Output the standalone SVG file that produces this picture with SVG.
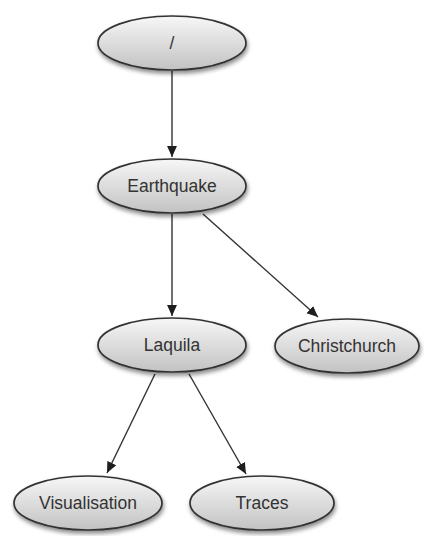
<svg xmlns="http://www.w3.org/2000/svg" width="424" height="536" viewBox="0 0 424 536">
<defs>
<linearGradient id="g" x1="0" y1="0" x2="0" y2="1">
<stop offset="0" stop-color="#f7f7f7"/>
<stop offset="1" stop-color="#c2c2c2"/>
</linearGradient>
<filter id="sh" x="-20%" y="-30%" width="140%" height="170%">
<feDropShadow dx="1" dy="3" stdDeviation="2" flood-color="#000" flood-opacity="0.45"/>
</filter>
<marker id="ah" viewBox="0 0 10 10" refX="10" refY="5" markerWidth="11" markerHeight="11" markerUnits="userSpaceOnUse" orient="auto">
<path d="M0,0.5 L10,5 L0,9.5 Z" fill="#1e1e1e"/>
</marker>
<style>
.n ellipse{fill:url(#g);stroke:#333;stroke-width:1.7;filter:url(#sh)}
.n text{font-family:"Liberation Sans",Arial,sans-serif;font-size:17.5px;fill:#333;text-anchor:middle}
.e line{stroke:#333;stroke-width:1.4;marker-end:url(#ah)}
</style>
</defs>
<g class="e" id="edges">
<line x1="172" y1="71" x2="172" y2="157"/>
<line x1="172" y1="214" x2="172" y2="316"/>
<line x1="203" y1="214" x2="318" y2="317"/>
<line x1="155" y1="374" x2="107" y2="473"/>
<line x1="189" y1="374" x2="246" y2="474"/>
</g>
<g class="n" id="n-root"><ellipse cx="172" cy="43" rx="74" ry="27"/><text x="172" y="49">/</text></g>
<g class="n" id="n-earthquake"><ellipse cx="172" cy="186" rx="74" ry="27"/><text x="172" y="192">Earthquake</text></g>
<g class="n" id="n-laquila"><ellipse cx="172" cy="345" rx="74" ry="27"/><text x="172" y="351">Laquila</text></g>
<g class="n" id="n-christchurch"><ellipse cx="347" cy="346" rx="72" ry="27"/><text x="347" y="352">Christchurch</text></g>
<g class="n" id="n-visualisation"><ellipse cx="88" cy="503" rx="74" ry="27"/><text x="88" y="509">Visualisation</text></g>
<g class="n" id="n-traces"><ellipse cx="262" cy="503" rx="72" ry="27"/><text x="262" y="509">Traces</text></g>
</svg>
